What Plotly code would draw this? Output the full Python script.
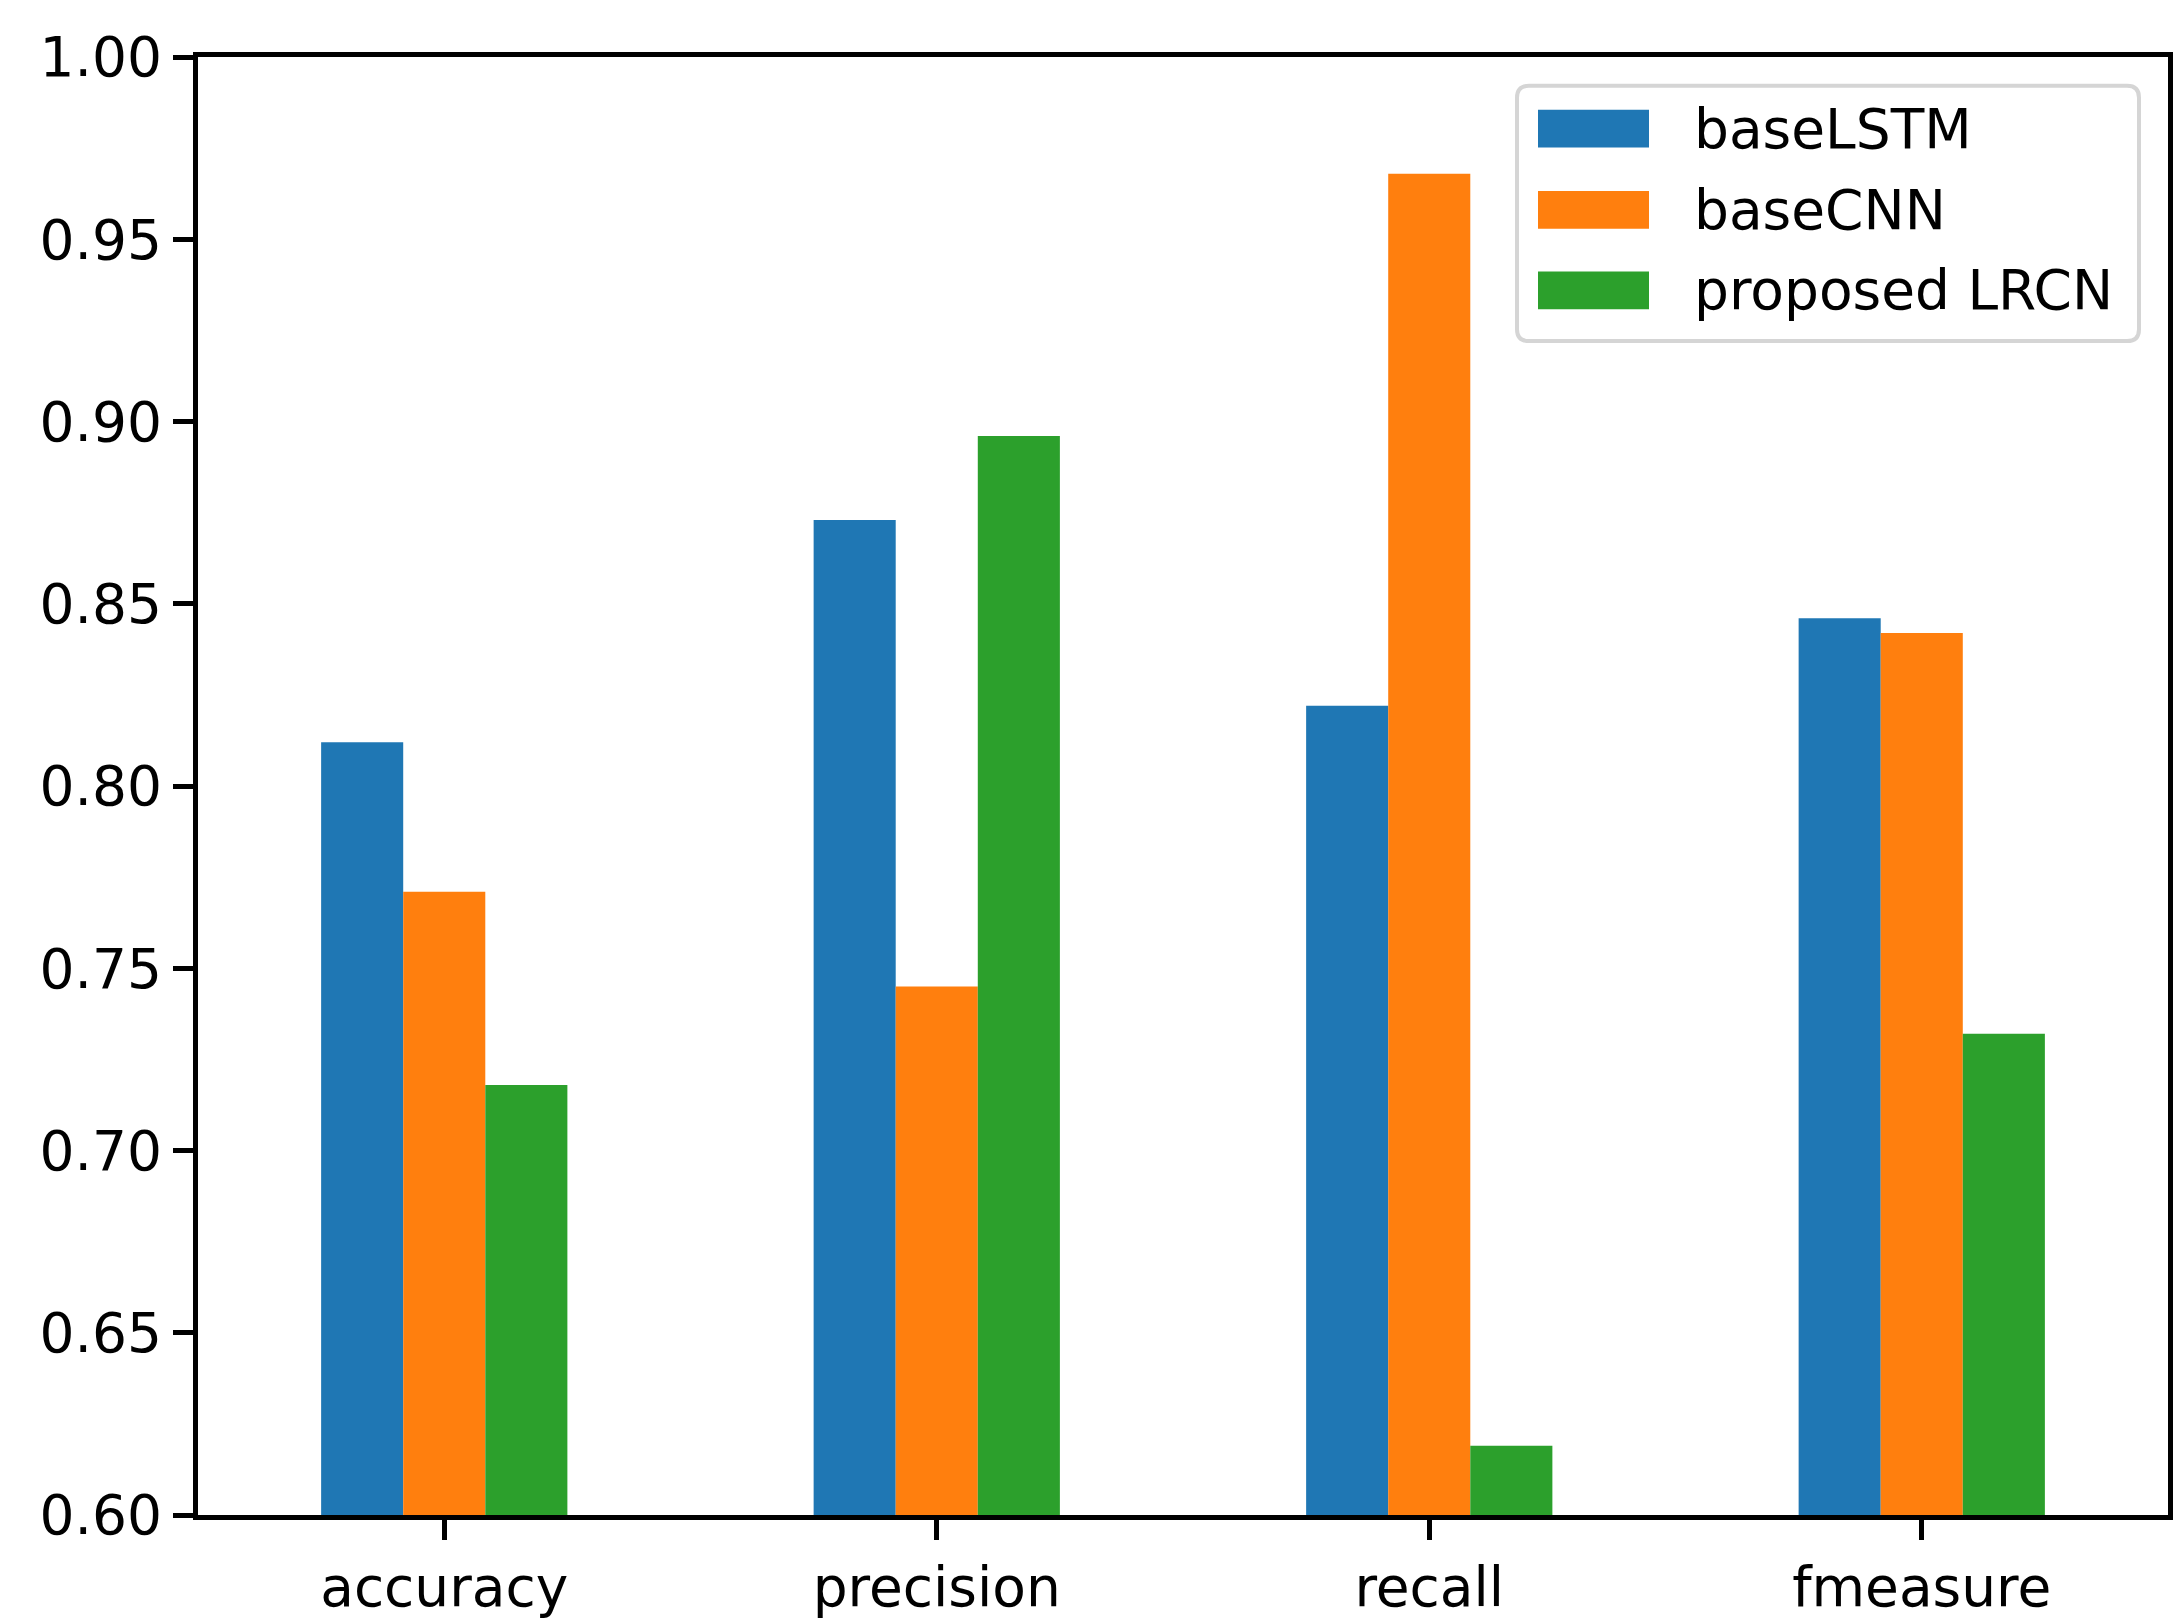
import plotly.graph_objects as go

categories = ["accuracy", "precision", "recall", "fmeasure"]
series_names = ["baseLSTM", "baseCNN", "proposed LRCN"]
base_lstm = [0.812, 0.873, 0.822, 0.846]
base_cnn = [0.771, 0.745, 0.968, 0.842]
proposed_lrcn = [0.718, 0.896, 0.619, 0.732]
y_ticks = [0.60, 0.65, 0.70, 0.75, 0.80, 0.85, 0.90, 0.95, 1.00]
colors = ["#1f77b4", "#ff7f0e", "#2ca02c"]

FONT = "DejaVu Sans"
FS = 55
W, H = 2181, 1623
L, R, T, B = 190, 21, 49, 106
PW, PH = W - L - R, H - T - B


def px_x(x):
    return (x - L) / PW


def px_y(y):
    return (H - B - y) / PH


def rounded_box(x0, y0, x1, y1, r):
    # pixel box -> paper-coordinate SVG path with rounded corners
    X0, X1 = px_x(x0), px_x(x1)
    Y0, Y1 = px_y(y1), px_y(y0)  # bottom, top in paper
    rx, ry = r / PW, r / PH
    return (f"M {X0+rx},{Y1} L {X1-rx},{Y1} Q {X1},{Y1} {X1},{Y1-ry} "
            f"L {X1},{Y0+ry} Q {X1},{Y0} {X1-rx},{Y0} "
            f"L {X0+rx},{Y0} Q {X0},{Y0} {X0},{Y0+ry} "
            f"L {X0},{Y1-ry} Q {X0},{Y1} {X0+rx},{Y1} Z")


fig = go.Figure()
for name, vals, col in zip(series_names, [base_lstm, base_cnn, proposed_lrcn], colors):
    fig.add_trace(go.Bar(
        x=list(range(len(categories))), y=vals, name=name,
        marker=dict(color=col, line=dict(width=0)),
        showlegend=False,
    ))

# matplotlib-style legend (box, patches, labels)
shapes = [dict(
    type="path", xref="paper", yref="paper",
    path=rounded_box(1509, 78, 2131, 335, 12),
    line=dict(color="#d5d5d5", width=4), fillcolor="white", layer="above",
)]
annotations = []
row_centers = [121, 203, 284]
for name, col, yc in zip(series_names, colors, row_centers):
    shapes.append(dict(
        type="rect", xref="paper", yref="paper",
        x0=px_x(1530), x1=px_x(1641), y0=px_y(yc + 19), y1=px_y(yc - 19),
        line=dict(width=0), fillcolor=col, layer="above",
    ))
    annotations.append(dict(
        xref="paper", yref="paper", x=px_x(1684), y=px_y(yc),
        xanchor="left", yanchor="middle", showarrow=False,
        text=name, font=dict(family=FONT, size=FS, color="black"),
    ))

fig.update_layout(
    width=W, height=H,
    margin=dict(l=L, r=R, t=T, b=B, pad=0),
    paper_bgcolor="white", plot_bgcolor="white",
    barmode="group", bargap=0.5, bargroupgap=0,
    font=dict(family=FONT, size=FS, color="black"),
    showlegend=False,
    shapes=shapes, annotations=annotations,
)
fig.update_xaxes(
    range=[-0.5, 3.5],
    tickmode="array", tickvals=list(range(len(categories))), ticktext=categories,
    ticks="outside", ticklen=20, tickwidth=5, tickcolor="black",
    showline=True, linecolor="black", linewidth=5, mirror=True,
    showgrid=False, zeroline=False,
    tickfont=dict(family=FONT, size=FS, color="black"),
)
fig.update_yaxes(
    range=[0.60, 1.00],
    tickmode="array", tickvals=y_ticks, ticktext=[f"{v:.2f}" for v in y_ticks],
    ticks="outside", ticklen=20, tickwidth=5, tickcolor="black",
    showline=True, linecolor="black", linewidth=5, mirror=True,
    showgrid=False, zeroline=False,
    tickfont=dict(family=FONT, size=FS, color="black"),
)

fig.write_html("out.html")
